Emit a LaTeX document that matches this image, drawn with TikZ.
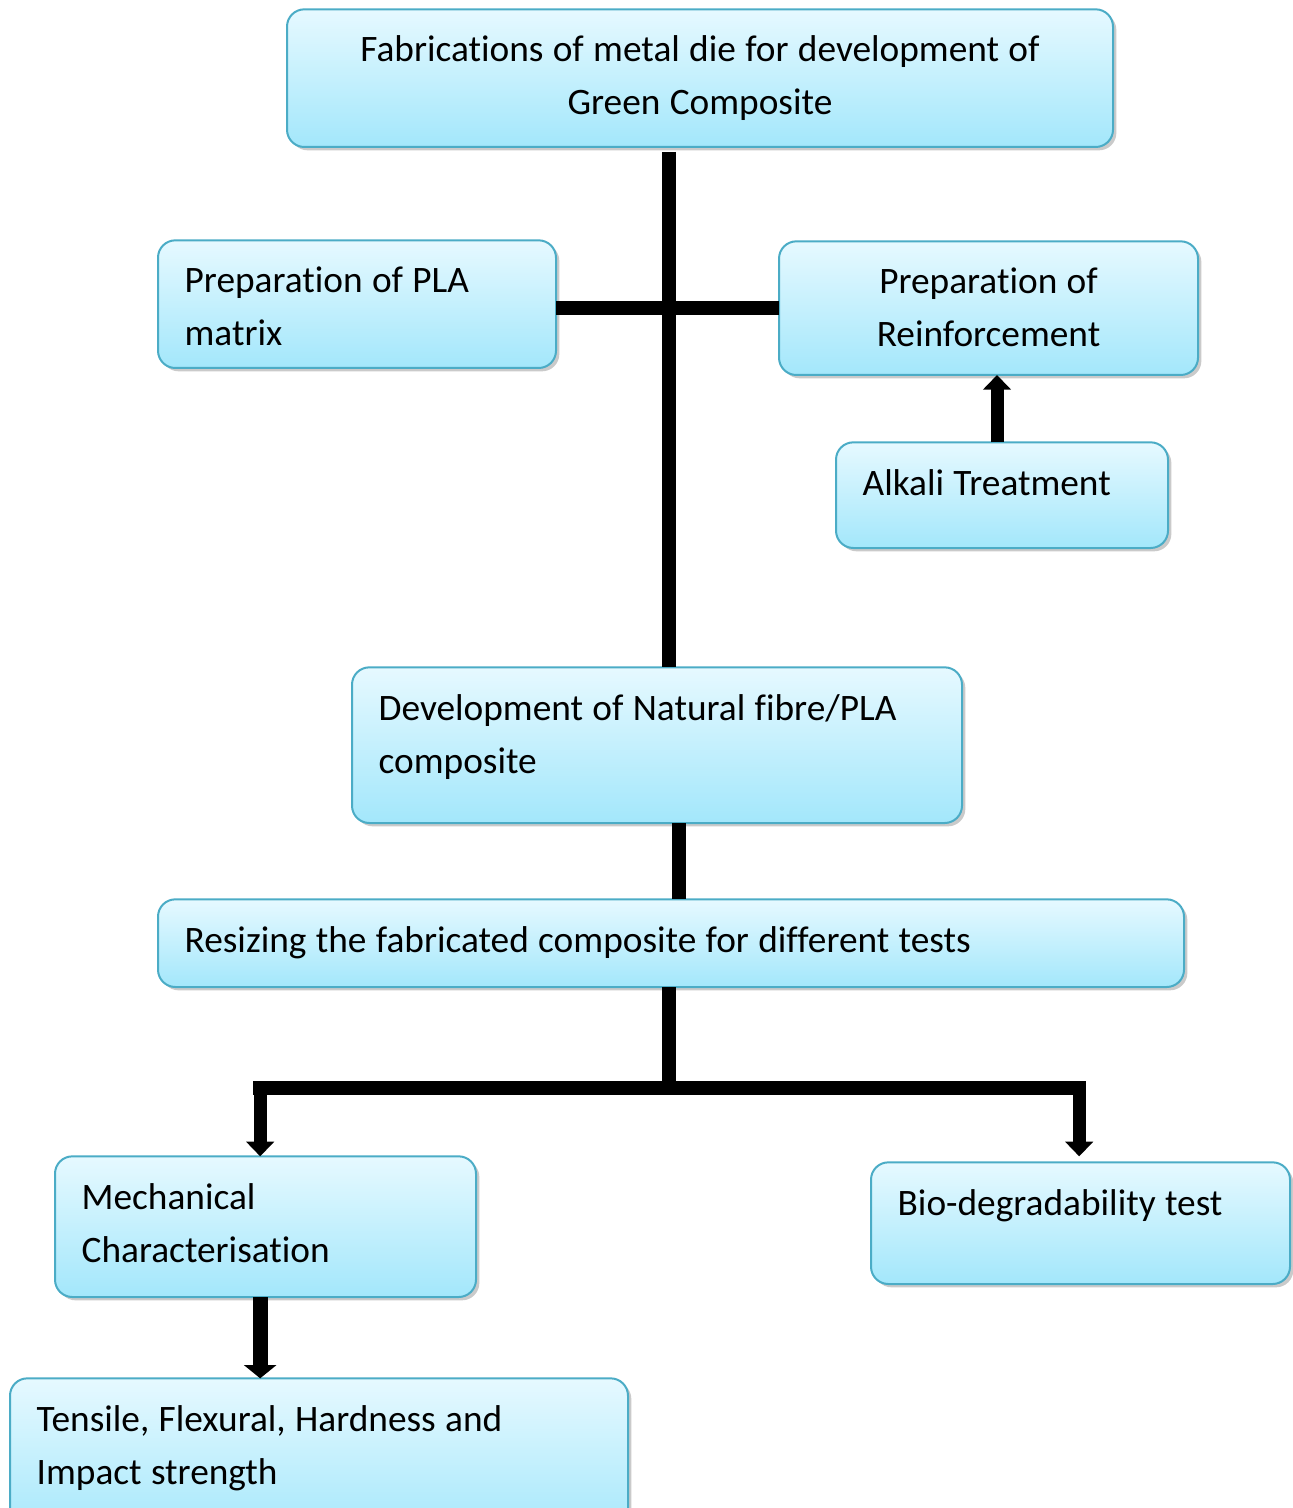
\documentclass[tikz,border=0pt]{standalone}
\usepackage{fontspec}
\setmainfont{Carlito}[Ligatures=NoCommon]
\usetikzlibrary{arrows.meta, shadows}
\definecolor{flowEdge}{HTML}{4BACC6}
\definecolor{flowTop}{HTML}{E6F9FF}
\definecolor{flowBot}{HTML}{A3E7FB}

\begin{document}
\begin{tikzpicture}[x=0.75pt, y=-0.75pt, font=\fontsize{28pt}{39.75pt}\selectfont,
        stage/.style={draw=flowEdge, line width=1.5pt, rounded corners=13pt, top color=flowTop, bottom color=flowBot, text=black, align=left, anchor=base west, inner xsep=20pt, inner ysep=0pt, outer sep=0pt, text height=39.5pt, execute at begin node={\spaceskip=0.25em\relax}, drop shadow={shadow xshift=2.5pt, shadow yshift=-2.5pt, opacity=0.35, fill=black!60}},
        bar/.style={line width=10.5pt, draw=black},
        flow/.style={line width=9.75pt, draw=black, -{Triangle[width=20.5pt, length=11pt]}}]
        \useasboundingbox (0,0) rectangle (1292,1508);
        \node[stage, align=center, text width=579.5pt, text depth=63.75pt] (die) at (287,62) {Fabrications of metal die for development of\\Green Composite};
        \node[stage, text width=258.5pt, text depth=56.25pt] (pla) at (158,293) {Preparation of PLA\\matrix};
        \node[stage, align=center, text width=274.25pt, text depth=60.75pt] (reinf) at (779,294) {Preparation of\\Reinforcement};
        \node[stage, text width=209pt, text depth=39.75pt] (alkali) at (836,495) {Alkali Treatment};
        \node[stage, text width=417.5pt, text depth=77.25pt] (dev) at (352,720) {Development of Natural fibre/PLA\\composite};
        \node[stage, text width=729.5pt, text depth=26.25pt] (resize) at (158,952) {Resizing the fabricated composite for different tests};
        \node[stage, text width=275.75pt, text depth=66pt] (mech) at (55,1209) {Mechanical\\Characterisation};
        \node[stage, text width=274.25pt, text depth=51.75pt] (bio) at (871,1215) {Bio-degradability test};
        \node[stage, text width=423.5pt, text depth=82.5pt] (tensile) at (10,1431) {Tensile, Flexural, Hardness and\\Impact strength};
        \coordinate (split) at (669,1088);
        \draw[bar] ([yshift=-3.75pt]die.south -| split) -- (dev.north -| split);
        \draw[bar] (pla.east |- reinf.west) -- (reinf.west);
        \draw[flow] ([xshift=-3.75pt]alkali.north) -- ([xshift=-3.75pt]alkali.north |- reinf.south);
        \draw[bar] ([xshift=16.5pt]dev.south) -- ([xshift=16.5pt]dev.south |- resize.north);
        \draw[bar] (resize.south -| split) -- (split);
        \draw[bar, line cap=rect] ([xshift=-4pt]mech.north |- split) -- ([xshift=-1pt]bio.north |- split);
        \draw[flow] ([xshift=-4pt]mech.north |- split) -- ([xshift=-4pt]mech.north);
        \draw[flow] ([xshift=-1pt]bio.north |- split) -- ([xshift=-1pt, yshift=4.5pt]bio.north);
        \draw[flow, line width=11.5pt, -{Triangle[width=24pt, length=10pt]}] ([xshift=-4pt]mech.south) -- ([xshift=-4pt]mech.south |- tensile.north);
      \end{tikzpicture}
\end{document}
